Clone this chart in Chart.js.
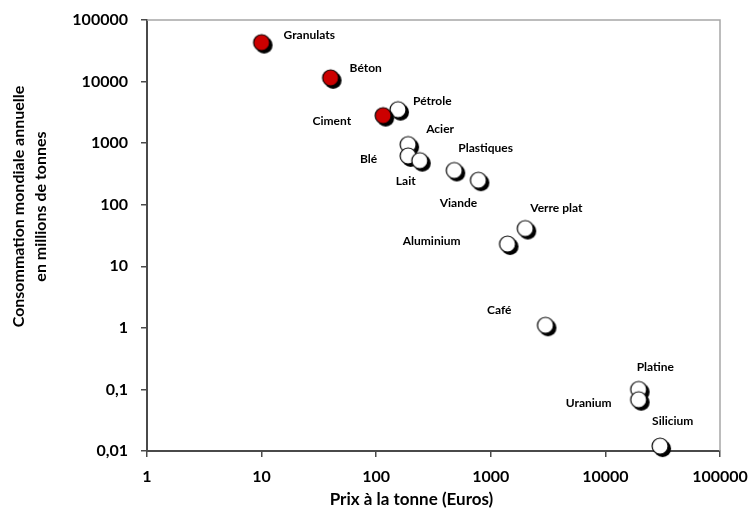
<!DOCTYPE html>
<html>
<head>
<meta charset="utf-8">
<script src="https://cdn.jsdelivr.net/npm/chart.js@4"></script>
<style>
  html, body { margin: 0; padding: 0; background: #fff; }
  #wrap { width: 750px; height: 516px; }
</style>
</head>
<body>
<div id="wrap"><canvas id="chart"></canvas></div>
<script>
// Prix à la tonne vs consommation mondiale (log-log)
const materials = ['Granulats', 'Béton', 'Pétrole', 'Ciment', 'Acier', 'Blé', 'Lait', 'Plastiques',
  'Viande', 'Verre plat', 'Aluminium', 'Café', 'Platine', 'Uranium', 'Silicium'];
const pricePerTonne = [10, 40, 155, 115, 190, 190, 240, 480, 780, 2000, 1400, 3000, 19500, 19500, 30000];
const consumption = [43000, 11500, 3500, 2800, 950, 620, 520, 360, 250, 41, 23, 1.1, 0.1, 0.068, 0.012];
const construction = ['Granulats', 'Béton', 'Ciment'];
const xTicks = [1, 10, 100, 1000, 10000, 100000];
const yTicks = [0.01, 0.1, 1, 10, 100, 1000, 10000, 100000];
const yTitle = ['Consommation mondiale annuelle', 'en millions de tonnes'];
const xTitle = 'Prix à la tonne (Euros)';

// label placement relative to the point: [dx, dy, align]
const labelPos = {
  'Granulats': [22, -7, 'left'],
  'Béton': [19, -10, 'left'],
  'Pétrole': [15, -9, 'left'],
  'Ciment': [-32, 6, 'right'],
  'Acier': [18, -15, 'left'],
  'Blé': [-31, 3, 'right'],
  'Lait': [-14, 20, 'center'],
  'Plastiques': [4, -22, 'left'],
  'Viande': [-20, 23, 'center'],
  'Verre plat': [5, -20, 'left'],
  'Aluminium': [-47, -3, 'right'],
  'Café': [-34, -15, 'right'],
  'Platine': [-2, -22, 'left'],
  'Uranium': [-27, 3, 'right'],
  'Silicium': [-8, -25, 'left'],
};

const FONT = 'Lato, "Open Sans", sans-serif';
const RED = '#CC0000';
const AXIS = '#4a4a4a';

// marker sprite: filled disc with a solid black drop shadow to the lower right
function makeMarker(fill) {
  const size = 26, r = 8, off = 2.5, c = size / 2;
  const cv = document.createElement('canvas');
  cv.width = size;
  cv.height = size;
  const g = cv.getContext('2d');
  g.fillStyle = '#000';
  g.beginPath();
  g.arc(c + off, c + off, r + 0.5, 0, Math.PI * 2);
  g.fill();
  g.fillStyle = fill;
  g.strokeStyle = '#000';
  g.lineWidth = 1.2;
  g.beginPath();
  g.arc(c, c, r, 0, Math.PI * 2);
  g.fill();
  g.stroke();
  return cv;
}
const redMarker = makeMarker(RED);
const whiteMarker = makeMarker('#ffffff');

const points = materials.map((m, i) => ({x: pricePerTonne[i], y: consumption[i]}));
const markers = materials.map((m) => (construction.includes(m) ? redMarker : whiteMarker));

const framePlugin = {
  id: 'frame',
  beforeDatasetsDraw(chart) {
    const {ctx, chartArea: a} = chart;
    ctx.save();
    ctx.strokeStyle = '#a6a6a6';
    ctx.lineWidth = 1.5;
    ctx.beginPath();
    ctx.moveTo(a.left, a.top);
    ctx.lineTo(a.right, a.top);
    ctx.lineTo(a.right, a.bottom);
    ctx.stroke();
    ctx.restore();
  },
};

const labelPlugin = {
  id: 'labels',
  afterDatasetsDraw(chart) {
    const {ctx} = chart;
    const meta = chart.getDatasetMeta(0);
    ctx.save();
    ctx.font = 'bold 12px ' + FONT;
    ctx.fillStyle = '#000';
    ctx.textBaseline = 'middle';
    meta.data.forEach((pt, i) => {
      const [dx, dy, align] = labelPos[materials[i]];
      ctx.textAlign = align;
      ctx.fillText(materials[i], pt.x + dx, pt.y + dy);
    });
    ctx.restore();
  },
};

// both axis titles sit a little off-centre in the original, so draw them here
const titlePlugin = {
  id: 'titles',
  afterDraw(chart) {
    const {ctx, chartArea: a} = chart;
    ctx.save();
    ctx.fillStyle = '#000';
    ctx.textAlign = 'center';
    ctx.textBaseline = 'middle';
    ctx.font = 'bold 17px ' + FONT;
    ctx.fillText(xTitle, (a.left + a.right) / 2 - 22, 500);
    ctx.translate(19, (a.top + a.bottom) / 2 - 29);
    ctx.rotate(-Math.PI / 2);
    ctx.font = 'bold 16px ' + FONT;
    yTitle.forEach((line, i) => ctx.fillText(line, 0, i * 22));
    ctx.restore();
  },
};

new Chart(document.getElementById('chart'), {
  type: 'scatter',
  data: {
    datasets: [{
      data: points,
      pointStyle: markers,
      pointRadius: 8,
      clip: false,
    }],
  },
  options: {
    responsive: true,
    maintainAspectRatio: false,
    animation: false,
    events: [],
    layout: {padding: {top: 20, right: 30, left: 0, bottom: 0}},
    plugins: {legend: {display: false}, tooltip: {enabled: false}},
    scales: {
      x: {
        type: 'logarithmic',
        min: 1,
        max: 100000,
        afterBuildTicks: (axis) => { axis.ticks = xTicks.map((v) => ({value: v})); },
        afterFit: (axis) => { axis.height = 65; axis.paddingLeft = 0; axis.paddingRight = 0; },
        ticks: {
          color: '#000',
          font: {family: FONT, size: 16, weight: 'bold'},
          padding: 10,
          maxRotation: 0,
          callback: (v) => String(v),
        },
        grid: {drawOnChartArea: false, tickLength: 6, color: AXIS, lineWidth: 1.5},
        border: {color: AXIS, width: 2},
      },
      y: {
        type: 'logarithmic',
        min: 0.01,
        max: 100000,
        afterBuildTicks: (axis) => { axis.ticks = yTicks.map((v) => ({value: v})); },
        afterFit: (axis) => { axis.width = 147; axis.paddingTop = 0; axis.paddingBottom = 0; },
        ticks: {
          color: '#000',
          font: {family: FONT, size: 16, weight: 'bold'},
          padding: 13,
          callback: (v) => String(v).replace('.', ','),
        },
        grid: {drawOnChartArea: false, tickLength: 6, color: AXIS, lineWidth: 1.5},
        border: {color: AXIS, width: 2},
      },
    },
  },
  plugins: [framePlugin, labelPlugin, titlePlugin],
});
</script>
</body>
</html>
